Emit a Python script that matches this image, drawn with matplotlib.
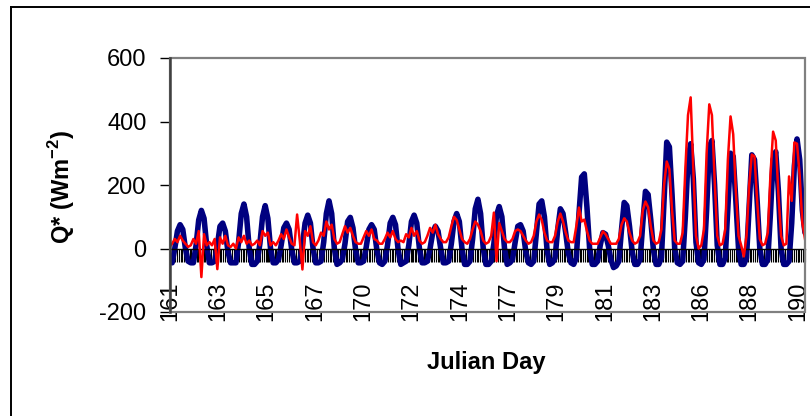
import matplotlib
matplotlib.use('Agg')
import matplotlib.pyplot as plt
import numpy as np
from matplotlib.lines import Line2D
from matplotlib.patches import Rectangle
from matplotlib.ticker import FixedLocator

plt.rcParams['font.family'] = ['Liberation Sans', 'DejaVu Sans']
plt.rcParams['mathtext.fontset'] = 'custom'
plt.rcParams['mathtext.rm'] = 'Liberation Sans'
plt.rcParams['mathtext.bf'] = 'Liberation Sans:bold'

# ---- data (3-hourly samples, 8 per day, days 161..190) ----
t_start = 161.125
t_step = 0.125

measured_q = [
    -40, -45, 0, 55, 75, 60, 0, -40,
    -45, -45, 10, 90, 120, 95, 10, -45,
    -45, -40, 10, 70, 80, 55, -10, -45,
    -45, -45, 20, 110, 140, 100, 0, -50,
    -50, -40, 15, 100, 135, 95, 0, -45,
    -45, -35, 10, 65, 80, 60, -5, -45,
    -45, -40, 10, 80, 105, 80, 0, -45,
    -45, -40, 20, 110, 150, 110, 0, -50,
    -45, -35, 15, 85, 98, 65, -5, -45,
    -45, -40, 5, 60, 75, 60, -5, -45,
    -50, -40, 10, 80, 98, 75, -5, -50,
    -45, -40, 10, 85, 105, 80, 0, -45,
    -45, -40, 0, 50, 70, 55, 0, -45,
    -45, -40, 15, 85, 110, 85, 0, -50,
    -50, -40, 30, 125, 155, 110, 0, -50,
    -50, -40, 15, 105, 132, 100, 0, -50,
    -45, -35, 20, 70, 75, 55, -10, -45,
    -50, -40, 50, 140, 150, 100, -5, -50,
    -45, -30, 60, 125, 110, 50, -15, -45,
    -50, -30, 110, 225, 235, 130, 0, -50,
    -50, -40, 10, 50, 45, 10, -35, -60,
    -55, -40, 60, 145, 135, 70, -10, -50,
    -50, -35, 80, 180, 170, 90, -5, -50,
    -50, -30, 150, 335, 320, 170, 0, -45,
    -50, -40, 100, 280, 330, 220, 20, -45,
    -50, -35, 120, 320, 340, 200, 10, -50,
    -50, -30, 130, 300, 290, 150, 0, -50,
    -50, -30, 130, 295, 280, 150, 0, -50,
    -50, -35, 110, 280, 305, 180, 0, -50,
    -50, -40, 80, 260, 345, 280, 120, 50,
]

modelled_q = [
    5, 15, 30, 20, 40, 25, 15, 5,
    10, 30, 15, 55, -90, 45, 10, 20,
    10, 30, -65, 35, 15, 40, 10, 5,
    15, 0, 35, 20, 40, 15, 25, 10,
    15, 25, 10, 55, 40, 50, 10, 20,
    10, 25, 45, 30, 60, 35, 15, 10,
    107, 25, -66, 55, 40, 70, 20, 10,
    25, 50, 40, 85, 60, 75, 30, 15,
    20, 45, 70, 50, 65, 40, 20, 15,
    15, 35, 55, 40, 60, 30, 25, 15,
    15, 30, 50, 35, 55, 30, 20, 25,
    20, 45, 35, 65, 40, 55, 25, 15,
    20, 40, 65, 50, 75, 45, 30, 20,
    20, 35, 70, 100, 90, 60, 30, 20,
    15, 30, 60, 85, 75, 55, 25, 15,
    20, 40, 113, -40, 80, 55, 30, 20,
    20, 30, 55, 60, 55, 40, 25, 15,
    20, 40, 85, 107, 90, 50, 25, 20,
    20, 40, 85, 110, 85, 50, 25, 20,
    20, 70, 129, 85, 91, 55, 25, 15,
    15, 15, 35, 54, 45, 30, 15, 15,
    15, 30, 75, 95, 85, 50, 25, 15,
    20, 40, 120, 148, 130, 70, 25, 15,
    20, 60, 200, 274, 250, 120, 25, 15,
    15, 50, 250, 420, 476, 250, 40, 0,
    10, 60, 300, 454, 420, 220, 40, 10,
    15, 60, 280, 416, 360, 180, 40, 10,
    -25, 40, 200, 296, 290, 150, 30, 10,
    15, 50, 230, 368, 340, 170, 40, 10,
    15, 227, 150, 334, 330, 230, 80, 30,
]

x_labels = ['161', '163', '165', '167', '170', '172', '174',
            '177', '179', '181', '183', '186', '188', '190']
x_first_label = 161.15
x_label_step = 109 / 48
x_end = 191.0

y_ticks = [-200, 0, 200, 400, 600]

# ---- figure ----
fig = plt.figure(figsize=(8.1, 4.16), dpi=100)
W, H = 810, 416
ax = fig.add_axes([170 / W, 104 / H, 635 / W, 254 / H])

t = t_start + t_step * np.arange(len(measured_q))
ax.plot(t, measured_q, color='#000080', lw=4.0, solid_joinstyle='round',
        solid_capstyle='round', zorder=2)
ax.plot(t, modelled_q, color='#FF0000', lw=1.8, zorder=3)

ax.set_xlim(x_first_label, x_end)
ax.set_ylim(-200, 600)

# spines
ax.spines['top'].set_visible(False)
ax.spines['right'].set_visible(False)
ax.spines['bottom'].set_position(('data', 0))
ax.spines['bottom'].set_color('black')
ax.spines['bottom'].set_linewidth(1.0)
ax.spines['left'].set_color('#404040')
ax.spines['left'].set_linewidth(1.8)
ax.spines['left'].set_zorder(6)

frame = Rectangle((0, 0), 1, 1, transform=ax.transAxes, fill=False,
                  edgecolor='#808080', lw=1.6, clip_on=False, zorder=5)
ax.add_patch(frame)

# y ticks
ax.set_yticks(y_ticks)
ax.set_yticklabels([str(v) for v in y_ticks])
ax.tick_params(axis='y', direction='out', length=7, width=1, labelsize=17,
               pad=10, colors='black')

# x ticks
major_pos = x_first_label + x_label_step * np.arange(len(x_labels))
ax.set_xticks(major_pos)
ax.set_xticklabels(x_labels, rotation=90)
ax.xaxis.set_minor_locator(FixedLocator(np.arange(x_first_label, x_end, 1 / 12)))
ax.tick_params(axis='x', which='both', direction='out', length=9, width=0.8,
               color='black')
ax.tick_params(axis='x', which='major', labelsize=17, pad=15)

# axis titles
fig.text(62 / W, 1 - 187 / H, r'Q* (Wm$^{\mathbf{-2}}$)', rotation=90,
         ha='center', va='center', fontsize=17, fontweight='bold')
fig.text(486 / W, 1 - 362 / H, 'Julian Day', ha='center', va='center',
         fontsize=17, fontweight='bold')

# outer chart border (only left and top visible)
fig.add_artist(Line2D([11 / W, 11 / W], [0, 1 - 7 / H], color='black', lw=1.4,
                      transform=fig.transFigure))
fig.add_artist(Line2D([11 / W, 1], [1 - 7 / H, 1 - 7 / H], color='black', lw=1.4,
                      transform=fig.transFigure))

fig.savefig('out.png', dpi=100)
